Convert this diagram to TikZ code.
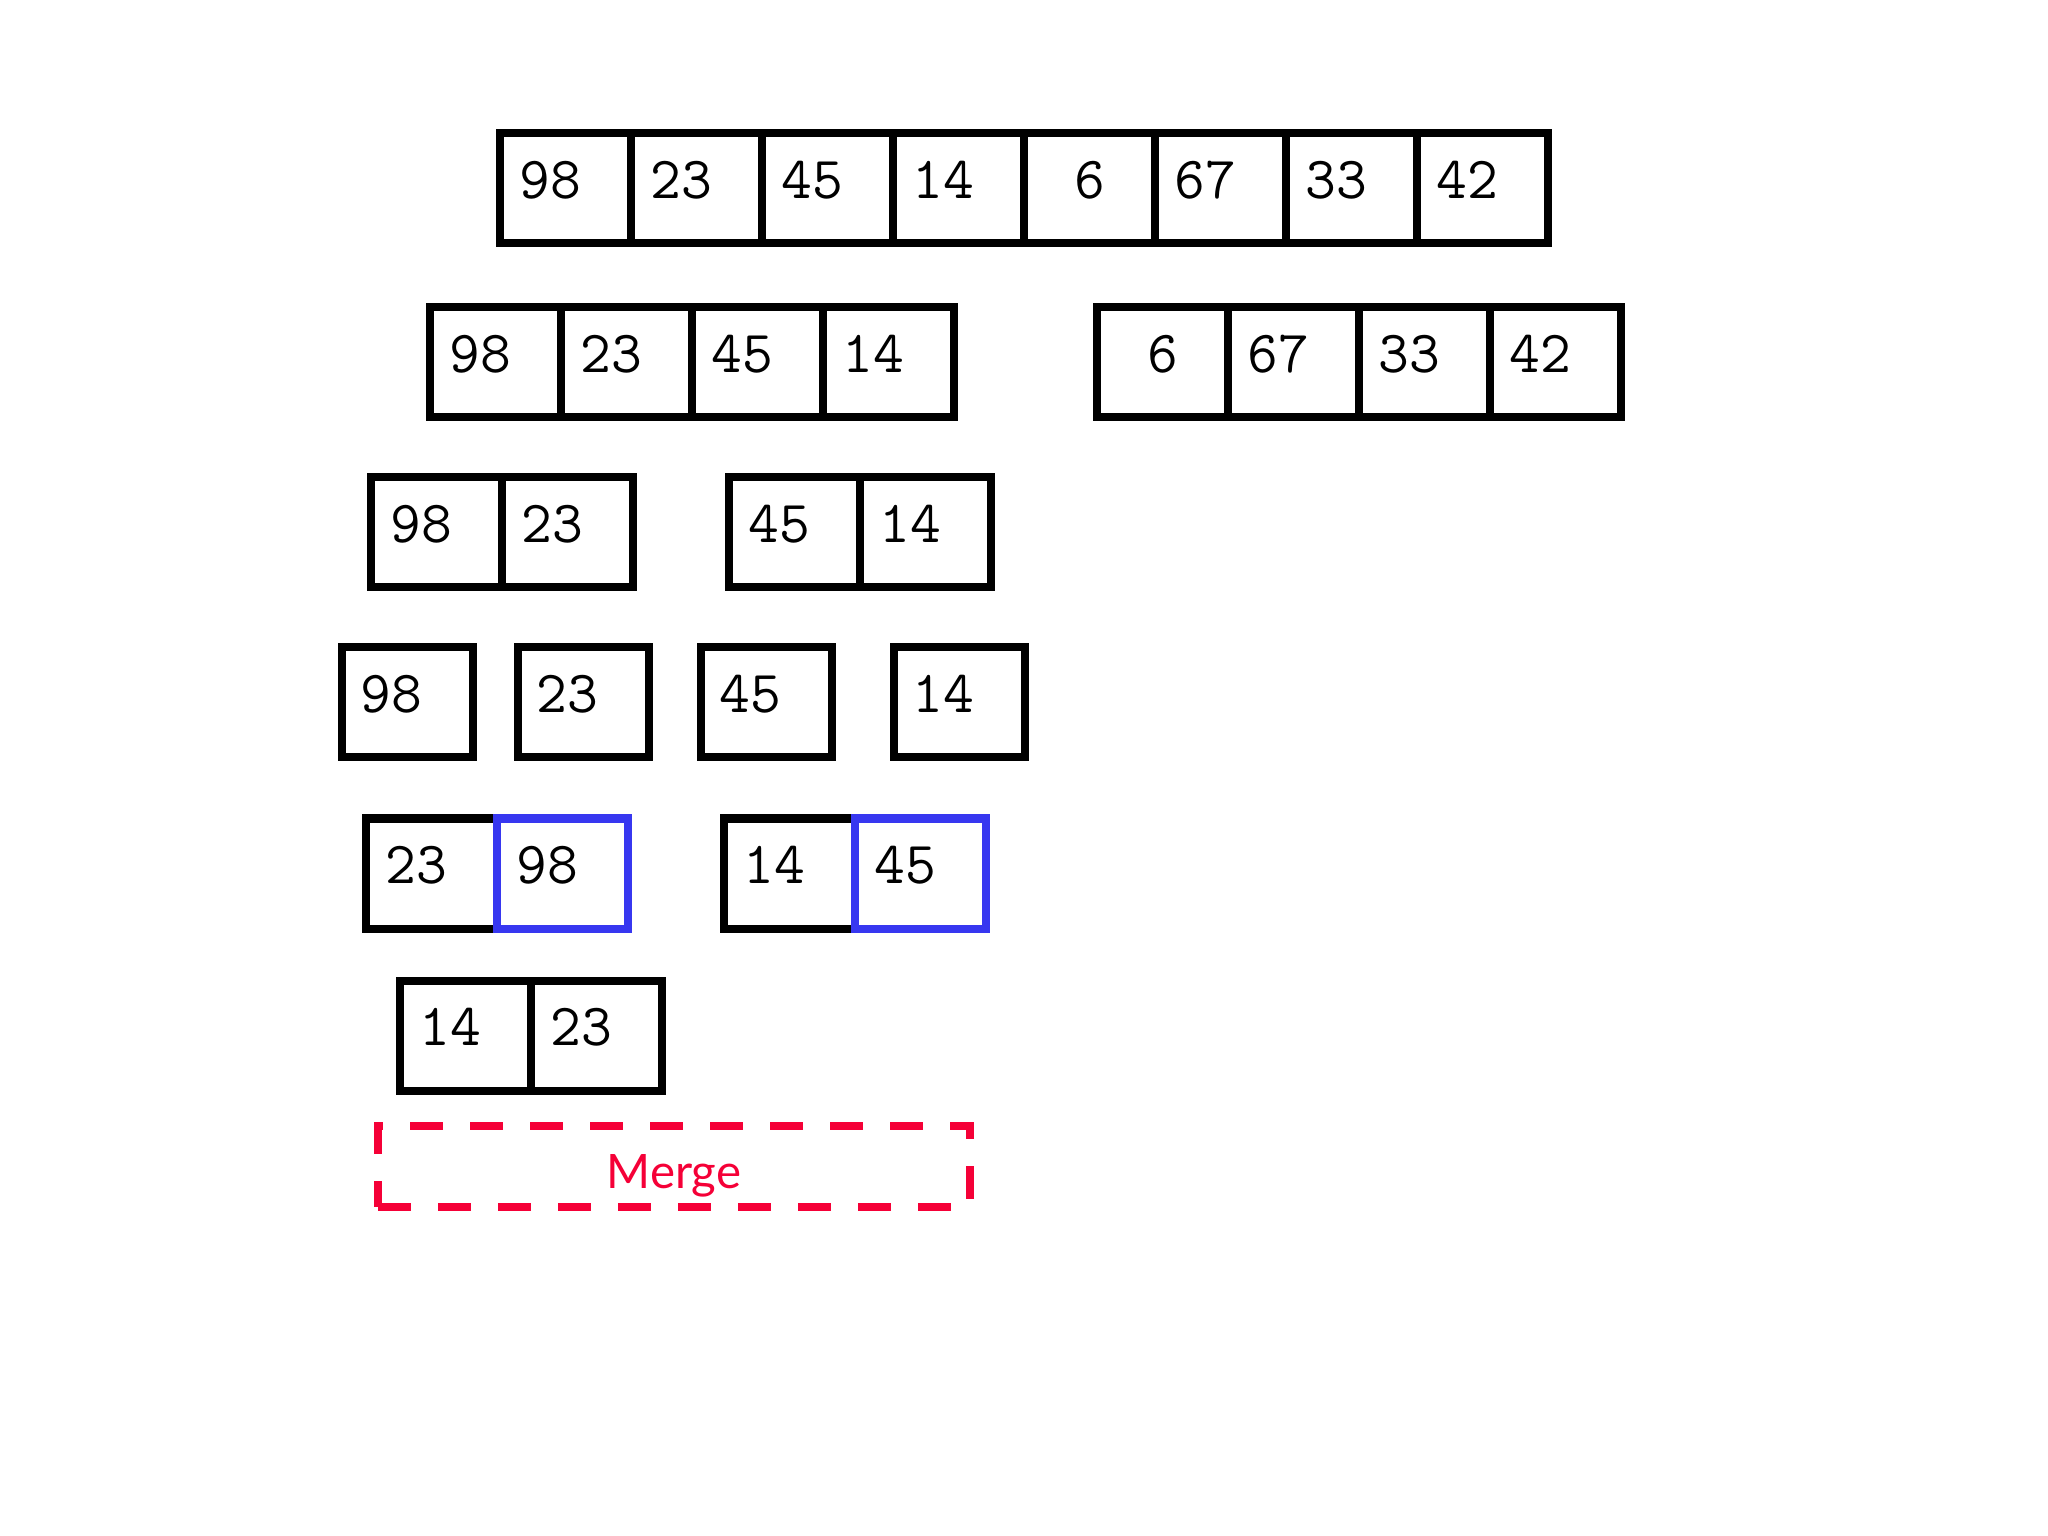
\documentclass[tikz,border=0pt]{standalone}
\usepackage{fontspec}
\usepackage{tikz}
\usepackage{xcolor}
\newfontfamily\latofont{Lato}
\definecolor{black}{RGB}{0,0,0}
\definecolor{mergeblue}{RGB}{55,55,240}
\definecolor{mergered}{RGB}{245,0,55}
\newcommand{\padnum}[1]{\ifnum#1>9 #1\phantom{0}\else#1\fi}

\tikzset{
    cell/.style={draw=black, line width=0.08cm, minimum width=1.31cm, minimum height=1.10cm,
        inner sep=0pt, outer sep=0pt, text depth=0.18cm,
        font=\ttfamily\fontsize{17}{17}\selectfont},
    donecell/.style={cell, draw=mergeblue},
    stagebox/.style={draw=mergered, line width=0.08cm, dash pattern=on 0.33cm off 0.27cm,
        minimum width=5.92cm, minimum height=0.81cm, inner sep=0pt, text height=0.52cm,
        text=mergered, font=\latofont\fontsize{13.5}{13.5}\selectfont}
}

\begin{document}
\begin{tikzpicture}
            \useasboundingbox (0, 0) rectangle (20.48, -15.36);

            % whole array
            \foreach \v [count=\i] in {98, 23, 45, 14, 6, 67, 33, 42}
                \node[cell] (top\i) at ({5.655 + (\i - 1)*1.31}, -1.885) {\padnum{\v}};

            % first split
            \foreach \v [count=\i] in {98, 23, 45, 14}
                \node[cell] (left\i) at ({4.955 + (\i - 1)*1.31}, -3.625) {\padnum{\v}};
            \foreach \v [count=\i] in {6, 67, 33, 42}
                \node[cell] (right\i) at ({11.625 + (\i - 1)*1.31}, -3.625) {\padnum{\v}};

            % second split
            \node[cell] (pairA1) at (4.365, -5.325) {\padnum{98}};
            \node[cell] (pairA2) at (5.675, -5.325) {\padnum{23}};
            \node[cell] (pairB1) at (7.945, -5.325) {\padnum{45}};
            \node[cell] (pairB2) at (9.255, -5.325) {\padnum{14}};

            % single elements
            \node[cell] (one1) at (4.07, -7.025) {\padnum{98}};
            \node[cell] (one2) at (5.83, -7.025) {\padnum{23}};
            \node[cell] (one3) at (7.66, -7.025) {\padnum{45}};
            \node[cell] (one4) at (9.59, -7.025) {\padnum{14}};

            % merged pairs
            \node[cell] (sortA1) at (4.315, -8.735) {\padnum{23}};
            \node[donecell] (sortA2) at (5.625, -8.735) {\padnum{98}};
            \node[cell] (sortB1) at (7.895, -8.735) {\padnum{14}};
            \node[donecell] (sortB2) at (9.205, -8.735) {\padnum{45}};

            % merging
            \node[cell] (out1) at (4.655, -10.355) {\padnum{14}};
            \node[cell] (out2) at (5.965, -10.355) {\padnum{23}};

            \node[stagebox] (stage) at (6.74, -11.665) {Merge};
        \end{tikzpicture}
\end{document}
